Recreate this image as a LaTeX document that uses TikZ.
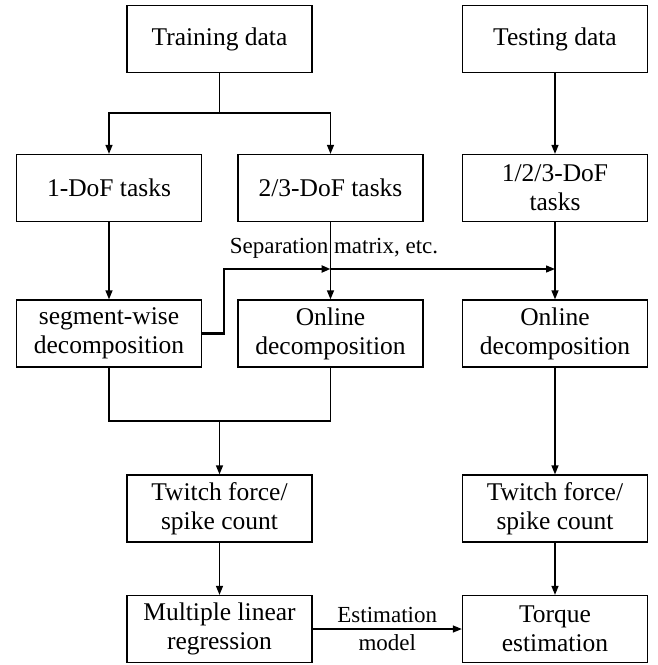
\documentclass[tikz,border=0pt]{standalone}
\usepackage{fontspec}
\setmainfont{Liberation Serif}
\usetikzlibrary{arrows.meta}
\begin{document}
\begin{tikzpicture}[x=1pt,y=-1pt,
  box/.style={draw, line width=1.3pt, minimum width=185pt, minimum height=67pt, align=center,
    font=\fontsize{25.5}{29}\selectfont, inner sep=0pt},
  conn/.style={line width=1.3pt, -{Triangle[length=9pt,width=7pt]}},
  thickconn/.style={line width=2.3pt, -{Triangle[length=9pt,width=7pt]}},
  plain/.style={line width=1.3pt},
  lbl/.style={font=\fontsize{23}{28}\selectfont, inner sep=0pt, align=center}]
\useasboundingbox (0,0) rectangle (657,665);
% nodes
\node[box] (train)  at (219.5,39)  {Training data};
\node[box] (test)   at (555,39)    {Testing data};
\node[box] (t1)     at (109,188)   {1-DoF tasks};
\node[box] (t23)    at (330.5,188) {2/3-DoF tasks};
\node[box] (t123)   at (555,188)   {1/2/3-DoF\\tasks};
\node[box] (seg)    at (109,333.5) {segment-wise\\decomposition};
\node[box] (on1)    at (330.5,333.5) {Online\\decomposition};
\node[box] (on2)    at (555,333.5) {Online\\decomposition};
\node[box] (tw1)    at (219.5,508.5) {Twitch force/\\spike count};
\node[box] (tw2)    at (555,508.5) {Twitch force/\\spike count};
\node[box] (mlr)    at (219.5,629) {Multiple linear\\regression};
\node[box] (torque) at (555,629)   {Torque\\estimation};
% helper coordinates
\coordinate (j1) at (219.5,113);
\coordinate (sepA) at (330.5,269);
\coordinate (sepB) at (555,269);
\coordinate (j2) at (219.5,421);
% connectors
\draw[plain] (train.south) -- (j1);
\draw[conn] (j1) -| (t1.north);
\draw[conn] (j1) -| (t23.north);
\draw[conn] (test) -- (t123);
\draw[conn] (t1) -- (seg);
\draw[conn] (t23) -- (on1);
\draw[conn] (t123) -- (on2);
\draw[thickconn] (seg.east) -- ++(22,0) |- (sepA);
\draw[conn] (sepA) -- (sepB);
\node[lbl, anchor=base] (seplbl) at (334,253) {Separation matrix, etc.};
\draw[plain] (seg.south) |- (j2) -| (on1.south);
\draw[conn] (j2) -- (tw1);
\draw[conn] (on2) -- (tw2);
\draw[conn] (tw1) -- (mlr);
\draw[conn] (tw2) -- (torque);
\draw[conn] (mlr) -- node[lbl] (estlbl) {Estimation\\model} (torque);
\end{tikzpicture}
\end{document}
